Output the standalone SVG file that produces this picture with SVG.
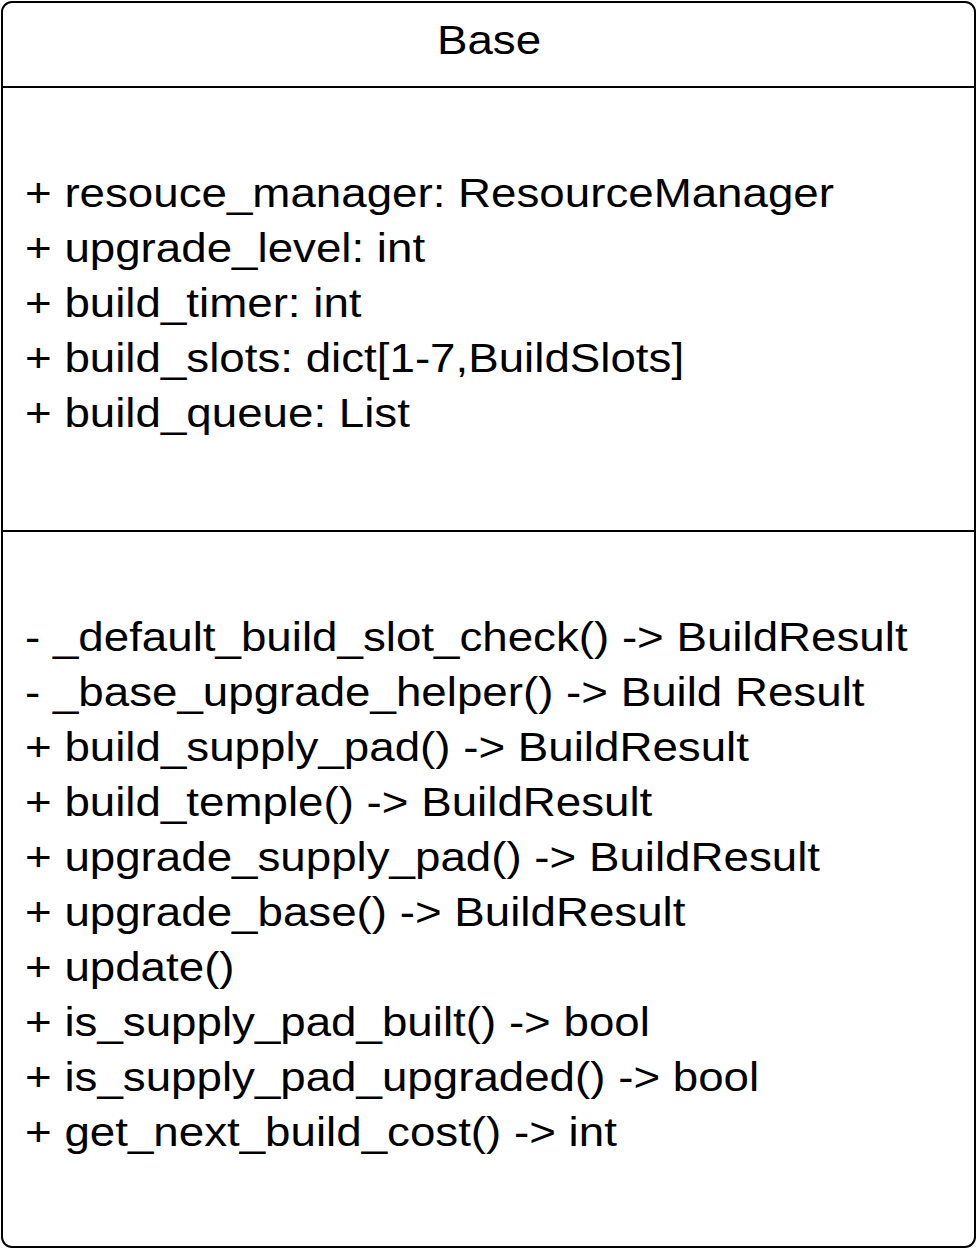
<svg xmlns="http://www.w3.org/2000/svg" width="977" height="1249" viewBox="0 0 977 1249">
<style>
.t{font-family:"Liberation Sans",Arial,sans-serif;font-size:40px;fill:#000}
.b{fill:#fff;stroke:#000;stroke-width:2}
.l{stroke:#000;stroke-width:2;fill:none}
</style>
<rect width="977" height="1249" fill="#fff"/>
<g id="base">
<rect class="b" x="2" y="2" width="973" height="1245" rx="10" ry="10"/>
<line class="l" x1="2" y1="87" x2="975" y2="87"/>
<line class="l" x1="2" y1="531" x2="975" y2="531"/>
<g transform="scale(1.1425,1)">
<text class="t" x="428" y="54" text-anchor="middle">Base</text>
<text class="t" x="21.9" y="207">+ resouce_manager: ResourceManager</text>
<text class="t" x="21.9" y="262">+ upgrade_level: int</text>
<text class="t" x="21.9" y="317">+ build_timer: int</text>
<text class="t" x="21.9" y="372">+ build_slots: dict[1-7,BuildSlots]</text>
<text class="t" x="21.9" y="427">+ build_queue: List</text>
<text class="t" x="21.9" y="651">- _default_build_slot_check() -&gt; BuildResult</text>
<text class="t" x="21.9" y="706">- _base_upgrade_helper() -&gt; Build Result</text>
<text class="t" x="21.9" y="761">+ build_supply_pad() -&gt; BuildResult</text>
<text class="t" x="21.9" y="816">+ build_temple() -&gt; BuildResult</text>
<text class="t" x="21.9" y="871">+ upgrade_supply_pad() -&gt; BuildResult</text>
<text class="t" x="21.9" y="926">+ upgrade_base() -&gt; BuildResult</text>
<text class="t" x="21.9" y="981">+ update()</text>
<text class="t" x="21.9" y="1036">+ is_supply_pad_built() -&gt; bool</text>
<text class="t" x="21.9" y="1091">+ is_supply_pad_upgraded() -&gt; bool</text>
<text class="t" x="21.9" y="1146">+ get_next_build_cost() -&gt; int</text>
</g>
</g>
</svg>
